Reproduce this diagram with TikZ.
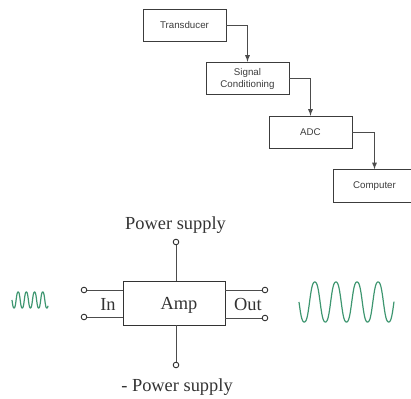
\documentclass[tikz,border=0pt]{standalone}
\usepackage{fontspec}
\setmainfont{Liberation Serif}
\newfontfamily\boxfont{Liberation Sans}
\usetikzlibrary{calc}
\definecolor{wavegreen}{RGB}{62,150,112}
\definecolor{linegray}{RGB}{60,60,60}
\tikzstyle{etape} = [rectangle, draw=linegray, line width=0.7pt, minimum height=24.4pt, minimum width=62.2pt, inner sep=0pt, align=center, font=\boxfont\fontsize{7.3}{9}\selectfont, text=linegray]
\tikzstyle{ampli} = [rectangle, draw=black!80, line width=0.7pt, minimum height=33pt, minimum width=76.5pt, inner sep=0pt]
\tikzstyle{borne} = [circle, draw=black!80, fill=white, line width=0.7pt, minimum size=4.2pt, inner sep=0pt]
\tikzstyle{etiquette} = [inner sep=0pt, text=black!80, font=\fontsize{13.8}{16}\selectfont]
\tikzstyle{fil} = [draw=black!70, line width=0.7pt]
\tikzstyle{signal} = [draw=wavegreen, line width=0.9pt, smooth, samples=200]
\begin{document}
\begin{tikzpicture}[x=0.75pt,y=-0.75pt]
                \useasboundingbox (0,0) rectangle (411,399);

                \node [etape] (transducer) at (184.5,25.5) {Transducer};
                \node [etape] (conditioning) at (247.5,78.5) {Signal\\Conditioning};
                \node [etape] (adc) at (310.5,132.5) {ADC};
                \node [etape] (computer) at (374.5,186) {Computer};

                \draw[fil, -latex] (transducer.east) -| (conditioning.north);
                \draw[fil, -latex] (conditioning.east) -| (adc.north);
                \draw[fil, -latex] (adc.east) -| (computer.north);

                \node [ampli] (amp) at (174,303) {};
                \node [etiquette] (amplabel) at (179,305.5) {Amp};
                \node [etiquette] (inlabel) at (108,304) {In};
                \node [etiquette] (outlabel) at (248,304) {Out};
                \node [etiquette] (powerplus) at (175.5,225) {Power supply};
                \node [etiquette] (powerminus) at (177,387) {- Power supply};

                \node [borne] (inhaut) at (84,290) {};
                \node [borne] (inbas) at (84,317) {};
                \node [borne] (outhaut) at (265,290) {};
                \node [borne] (outbas) at (265,318) {};
                \node [borne] (plus) at (176,242) {};
                \node [borne] (moins) at (176,365) {};

                \draw[fil] (inhaut) -- (inhaut -| amp.west);
                \draw[fil] (inbas) -- (inbas -| amp.west);
                \draw[fil] (outhaut) -- (outhaut -| amp.east);
                \draw[fil] (outbas) -- (outbas -| amp.east);
                \draw[fil] (plus) -- (plus |- amp.north);
                \draw[fil] (moins) -- (moins |- amp.south);

                \draw[signal, domain=12:48] plot (\x,{300+8.5*(sin(360/8.2*(\x-12))+0.06*sin(3*360/8.2*(\x-12)))});
                \draw[signal, domain=299:394] plot (\x,{302+21.3*(sin(360/21.1*(\x-299))+0.06*sin(3*360/21.1*(\x-299)))});
            \end{tikzpicture}
\end{document}
